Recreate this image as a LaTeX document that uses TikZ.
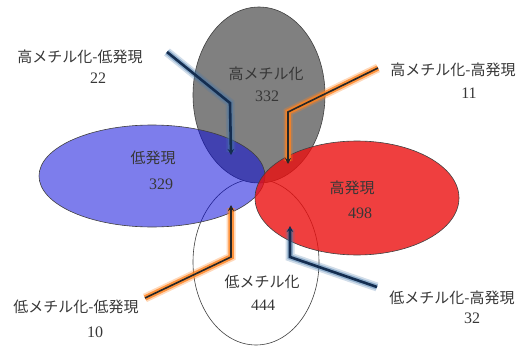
\documentclass[tikz,border=0pt]{standalone}
\usepackage{fontspec}
\newfontfamily\jp{Noto Sans CJK JP}
\newfontfamily\numf{Liberation Serif}
\usetikzlibrary{arrows.meta}
\definecolor{navy}{RGB}{20,45,80}
\definecolor{glowblue}{RGB}{70,120,170}
\definecolor{gloworange}{RGB}{255,130,30}
\definecolor{txtgray}{RGB}{55,55,55}
\definecolor{grayfill}{RGB}{128,128,128}
\definecolor{bluefill}{RGB}{10,10,220}
\definecolor{redfill}{RGB}{235,15,15}
\tikzset{
  settxt/.style={font=\jp\fontsize{15}{17}\selectfont, inner sep=0pt, text=txtgray},
  numtxt/.style={font=\numf\fontsize{16}{18}\selectfont, inner sep=0pt, text=txtgray},
  lbl/.style={font=\jp\fontsize{15}{17}\selectfont, inner sep=0pt, align=center, text=txtgray},
  glowBa/.style={line width=9pt, draw=glowblue, draw opacity=0.25, line join=miter},
  glowBb/.style={line width=5.5pt, draw=glowblue, draw opacity=0.45, line join=miter},
  glowOa/.style={line width=9pt, draw=gloworange, draw opacity=0.3, line join=miter},
  glowOb/.style={line width=5.5pt, draw=gloworange, draw opacity=0.8, line join=miter},
  coreB/.style={line width=2.6pt, draw=navy, line join=miter, -{Stealth[length=6pt,width=6.5pt]}},
  coreO/.style={line width=1.6pt, draw=black!85, line join=miter, -{Stealth[length=6pt,width=6pt]}},
  ell/.style={draw=black!75, line width=0.6pt},
}
\begin{document}
\begin{tikzpicture}[x=1pt,y=1pt]
\useasboundingbox (0,0) rectangle (523,360);
% ellipses
\fill[white] (256,98) ellipse [x radius=63, y radius=83];
\draw[ell] (256,98) ellipse [x radius=63, y radius=83];
\fill[grayfill] (259,265) ellipse [x radius=66, y radius=88];
\draw[ell] (259,265) ellipse [x radius=66, y radius=88];
\fill[bluefill, fill opacity=0.53] (152,184) ellipse [x radius=113, y radius=51];
\draw[ell] (152,184) ellipse [x radius=113, y radius=51];
\fill[redfill, fill opacity=0.8] (357,162) ellipse [x radius=102, y radius=57];
\draw[ell] (357,162) ellipse [x radius=102, y radius=57];
% set labels
\node[settxt] (hm) at (266,286) {高メチル化};
\node[numtxt] (hmn) at (267,264) {332};
\node[settxt] (le) at (153,202) {低発現};
\node[numtxt] (len) at (161,176) {329};
\node[settxt] (he) at (352,172) {高発現};
\node[numtxt] (hen) at (360,147) {498};
\node[settxt] (lm) at (262,78) {低メチル化};
\node[numtxt] (lmn) at (263,55) {444};
% outer labels
\node[lbl] (l1) at (80,303) {高メチル化-低発現};
\node[numtxt] (l1n) at (98,282) {22};
\node[lbl] (l2) at (453,290) {高メチル化-高発現};
\node[numtxt] (l2n) at (469,267) {11};
\node[lbl] (l3) at (76,53) {低メチル化-低発現};
\node[numtxt] (l3n) at (95,28) {10};
\node[lbl] (l4) at (452,62) {低メチル化-高発現};
\node[numtxt] (l4n) at (472,42) {32};
% arrow points
\coordinate (a1s) at (167,308); \coordinate (a1b) at (230,257); \coordinate (a1e) at (231,205);
\coordinate (a2s) at (378,292); \coordinate (a2b) at (288,248); \coordinate (a2e) at (288,196);
\coordinate (a3s) at (145,62); \coordinate (a3b) at (231,103); \coordinate (a3e) at (231,155);
\coordinate (a4s) at (377,73); \coordinate (a4b) at (290,103); \coordinate (a4e) at (290,134);
% arrows
\draw[glowBa] (a1s) -- (a1b) -- ([yshift=3pt]a1e);
\draw[glowBb] (a1s) -- (a1b) -- ([yshift=3pt]a1e);
\draw[coreB] (a1s) -- (a1b) -- (a1e);
\draw[glowOa] (a2s) -- (a2b) -- ([yshift=3pt]a2e);
\draw[glowOb] (a2s) -- (a2b) -- ([yshift=3pt]a2e);
\draw[coreO] (a2s) -- (a2b) -- (a2e);
\draw[glowOa] (a3s) -- (a3b) -- ([yshift=-3pt]a3e);
\draw[glowOb] (a3s) -- (a3b) -- ([yshift=-3pt]a3e);
\draw[coreO] (a3s) -- (a3b) -- (a3e);
\draw[glowBa] (a4s) -- (a4b) -- ([yshift=-3pt]a4e);
\draw[glowBb] (a4s) -- (a4b) -- ([yshift=-3pt]a4e);
\draw[coreB] (a4s) -- (a4b) -- (a4e);
\end{tikzpicture}
\end{document}
